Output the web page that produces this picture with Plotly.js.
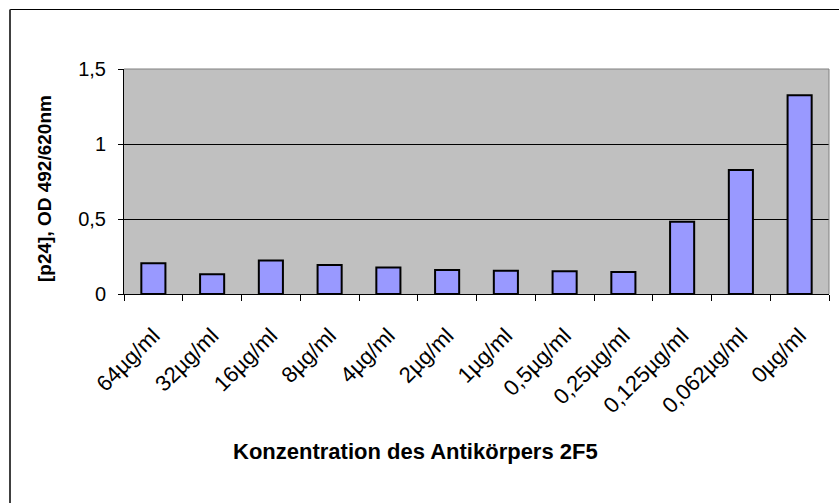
<!DOCTYPE html>
<html>
<head>
<meta charset="utf-8">
<script src="https://cdn.plot.ly/plotly-3.0.1.min.js"></script>
<style>
  html, body { margin: 0; padding: 0; background: #ffffff; }
  #chart { width: 839px; height: 503px; }
</style>
</head>
<body>
<div id="chart"></div>
<script>
// Data
var categories = ["64µg/ml", "32µg/ml", "16µg/ml", "8µg/ml", "4µg/ml", "2µg/ml",
                  "1µg/ml", "0,5µg/ml", "0,25µg/ml", "0,125µg/ml", "0,062µg/ml", "0µg/ml"];
var odValues = [0.205, 0.131, 0.224, 0.193, 0.176, 0.160, 0.155, 0.151, 0.147, 0.482, 0.827, 1.325];
var yTickValues = [0, 0.5, 1, 1.5];
var xTitle = "Konzentration des Antikörpers 2F5";
var yTitle = "[p24], OD 492/620nm";

var font = "Liberation Sans, Arial, sans-serif";

var trace = {
  type: "bar",
  x: categories,
  y: odValues,
  marker: { color: "#9999FF", line: { color: "#000000", width: 2 } },
  hoverinfo: "x+y"
};

var layout = {
  width: 839,
  height: 503,
  margin: { l: 124, r: 10, t: 69, b: 209, pad: 0 },
  paper_bgcolor: "#FFFFFF",
  plot_bgcolor: "#C0C0C0",
  separators: ", ",
  showlegend: false,
  bargap: 0.59,
  font: { family: font, color: "#000000", size: 20 },
  xaxis: {
    type: "category",
    range: [-0.5, categories.length - 0.5],
    tickangle: -45,
    tickson: "boundaries",
    ticks: "outside",
    ticklen: 6,
    tickwidth: 1,
    tickcolor: "#000000",
    ticklabelstandoff: 19,
    showline: true,
    linecolor: "#000000",
    linewidth: 1,
    showgrid: false,
    zeroline: false,
    tickfont: { family: font, size: 22, color: "#000000" }
  },
  yaxis: {
    range: [0, 1.5],
    tickvals: yTickValues,
    ticks: "outside",
    ticklen: 5,
    tickwidth: 1,
    tickcolor: "#000000",
    ticklabelstandoff: 8,
    showline: true,
    linecolor: "#000000",
    linewidth: 1,
    showgrid: true,
    gridcolor: "#000000",
    gridwidth: 1,
    zeroline: false,
    tickfont: { family: font, size: 20, color: "#000000" }
  },
  shapes: [
    { type: "line", xref: "paper", yref: "paper", x0: 0, x1: 1, y0: 1, y1: 1,
      line: { color: "#808080", width: 1 } },
    { type: "line", xref: "paper", yref: "paper", x0: 1, x1: 1, y0: 0, y1: 1,
      line: { color: "#808080", width: 1 } },
    { type: "line", xref: "paper", yref: "paper", x0: -0.1617, x1: 1.02, y0: 1.2644, y1: 1.2644,
      line: { color: "#000000", width: 1 } },
    { type: "line", xref: "paper", yref: "paper", x0: -0.1617, x1: -0.1617, y0: 1.2644, y1: -0.95,
      line: { color: "#404040", width: 2 } }
  ],
  annotations: [
    { text: xTitle, xref: "paper", yref: "paper", x: 0.413, y: -0.70,
      xanchor: "center", yanchor: "middle", showarrow: false,
      font: { family: font, size: 22, color: "#000000", weight: "bold" } },
    { text: yTitle, xref: "paper", yref: "paper", x: -0.1135, y: 0.471,
      xanchor: "center", yanchor: "middle", showarrow: false, textangle: -90,
      font: { family: font, size: 19, color: "#000000", weight: "bold" } }
  ]
};

Plotly.newPlot("chart", [trace], layout, { displayModeBar: false, staticPlot: true });
</script>
</body>
</html>
